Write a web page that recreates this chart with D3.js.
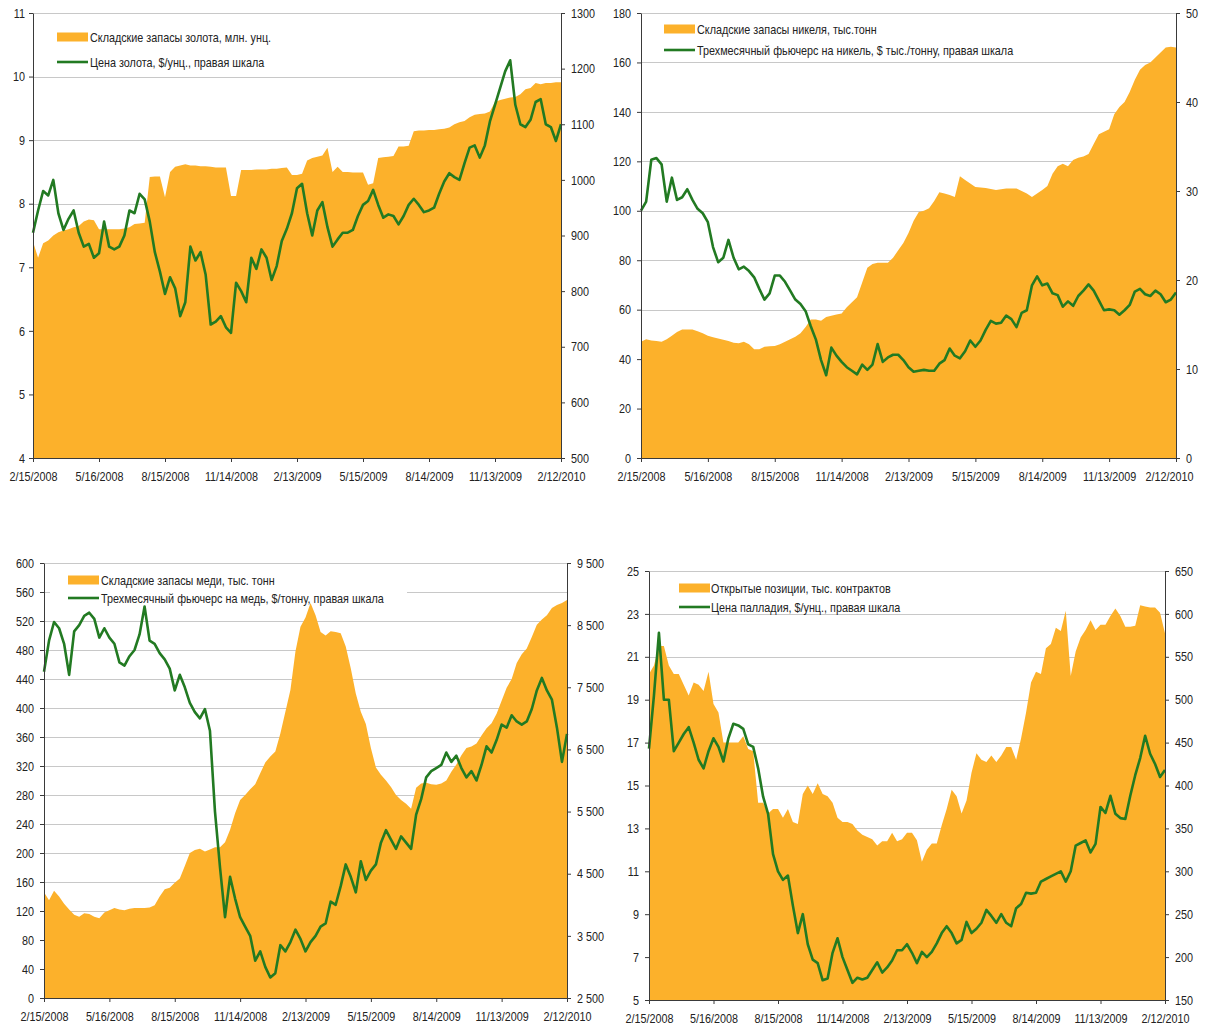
<!DOCTYPE html>
<html>
<head>
<meta charset="utf-8">
<script src="https://cdn.jsdelivr.net/npm/d3@7"></script>
<style>
  body { margin: 0; background: #fff; }
  text { font-family: "Liberation Sans Narrow", "Arial Narrow", "Liberation Sans", Arial, sans-serif; font-size: 13px; fill: #222; }
</style>
</head>
<body>
<svg id="chart" width="1205" height="1032"></svg>
<script>
// x axis: weekly observations, one tick every 13 weeks
var xTickLabels = ["2/15/2008", "5/16/2008", "8/15/2008", "11/14/2008", "2/13/2009",
                   "5/15/2009", "8/14/2009", "11/13/2009", "2/12/2010"];

// gold
var goldStocks = [7.4, 7.15, 7.38, 7.42, 7.5, 7.55, 7.58, 7.6, 7.63, 7.65,
  7.72, 7.75, 7.74, 7.6, 7.6, 7.6, 7.6, 7.6, 7.61, 7.63,
  7.68, 7.69, 7.7, 8.42, 8.43, 8.43, 8.1, 8.5, 8.58, 8.6,
  8.62, 8.6, 8.6, 8.59, 8.59, 8.58, 8.57, 8.57, 8.57, 8.12,
  8.12, 8.53, 8.53, 8.53, 8.54, 8.54, 8.54, 8.55, 8.55, 8.56,
  8.57, 8.45, 8.45, 8.47, 8.68, 8.72, 8.74, 8.76, 8.88, 8.5,
  8.58, 8.5, 8.5, 8.49, 8.49, 8.49, 8.3, 8.32, 8.72, 8.73,
  8.74, 8.75, 8.9, 8.9, 8.91, 9.14, 9.15, 9.15, 9.16, 9.16,
  9.17, 9.18, 9.2, 9.25, 9.28, 9.3, 9.36, 9.4, 9.41, 9.42,
  9.45, 9.6, 9.63, 9.65, 9.67, 9.68, 9.72, 9.8, 9.82, 9.9,
  9.88, 9.9, 9.9, 9.91, 9.91];
var goldPrice = [905, 945, 980, 972, 1000, 940, 910, 930, 945, 905,
  880, 885, 860, 868, 925, 880, 875, 880, 900, 945,
  940, 975, 965, 925, 870, 835, 795, 825, 805, 755,
  780, 880, 855, 870, 830, 740, 745, 755, 735, 725,
  815, 800, 780, 860, 840, 875, 860, 820, 845, 890,
  912, 940, 985, 993, 940, 900, 945, 960, 915, 880,
  893, 905, 905, 910, 935, 955, 962, 982, 955, 932,
  938, 935, 920, 935, 955, 966, 955, 942, 945, 950,
  975, 997, 1012, 1005, 1000, 1030, 1058, 1062, 1040, 1062,
  1105, 1135, 1165, 1195, 1215, 1135, 1100, 1095, 1108, 1140,
  1145, 1100, 1095, 1070, 1100];

// nickel
var nickelStocks = [47, 48, 47.5, 47.3, 47, 48, 49.5, 51, 52, 52,
  52, 51.3, 50.5, 49.4, 48.8, 48.3, 47.8, 47.3, 46.6, 46.4,
  47, 46, 44, 44, 45, 45.2, 45.3, 46, 47, 48,
  49, 50.5, 53, 56, 56, 55.5, 57, 57.5, 58, 58.5,
  61, 63, 65, 71, 77, 78.5, 79, 79, 79, 81,
  84, 87, 91, 96, 99.5, 100, 101, 104, 107.5, 107,
  106.4, 105.6, 114, 112.5, 111, 109.6, 109.4, 109.2, 108.8, 108.4,
  108.7, 109, 109, 109, 108, 107, 105.6, 107, 108.4, 110,
  115, 118, 119, 118, 120.5, 121.5, 122, 123, 127, 131,
  132, 133, 139, 142, 144, 148, 153, 157, 159, 160,
  162, 164, 166, 166.3, 166];
var nickelPrice = [27.8, 28.8, 33.5, 33.7, 33, 28.8, 31.5, 29, 29.3, 30.2,
  29, 28, 27.5, 26.5, 23.7, 22, 22.5, 24.5, 22.5, 21.2,
  21.5, 21, 20.3, 19, 17.8, 18.5, 20.5, 20.5, 19.8, 18.8,
  17.8, 17.3, 16.5, 14.8, 13.3, 11, 9.3, 12.4, 11.5, 10.8,
  10.2, 9.8, 9.4, 10.5, 9.9, 10.5, 12.8, 10.8, 11.3, 11.6,
  11.6, 11, 10.2, 9.7, 9.8, 9.9, 9.8, 9.8, 10.6, 11,
  12.3, 11.5, 11.2, 12, 13.2, 12.5, 13.2, 14.4, 15.4, 15.1,
  15.2, 16, 15.6, 14.7, 16.3, 16.6, 19.4, 20.4, 19.4, 19.6,
  18.5, 18.3, 17, 17.6, 17.1, 18.2, 18.8, 19.5, 18.8, 17.7,
  16.6, 16.7, 16.6, 16.1, 16.6, 17.2, 18.7, 19, 18.4, 18.2,
  18.8, 18.4, 17.5, 17.8, 18.6];

// copper
var copperStocks = [146, 135, 148, 140, 130, 122, 115, 112, 117, 116,
  112, 110, 118, 121, 124, 122, 121, 123, 124, 124,
  124, 125, 128, 140, 150, 152, 159, 165, 182, 200,
  204, 206, 202, 205, 208, 208, 215, 232, 255, 273,
  280, 288, 295, 310, 325, 333, 340, 365, 395, 425,
  478, 512, 525, 545, 528, 505, 500, 506, 505, 503,
  485, 455, 420, 395, 378, 345, 318, 308, 300, 291,
  280, 273, 268, 261, 290, 296, 297, 295, 294, 296,
  300, 312, 322, 335, 345, 347, 351, 362, 372, 379,
  392, 410, 428, 440, 462, 474, 482, 498, 515, 522,
  528, 538, 542, 545, 549];
var copperPrice = [7750, 8250, 8550, 8450, 8200, 7700, 8400, 8500, 8650, 8700,
  8600, 8300, 8450, 8300, 8200, 7900, 7850, 8000, 8100, 8350,
  8800, 8250, 8200, 8050, 7950, 7800, 7450, 7700, 7500, 7250,
  7100, 7000, 7150, 6800, 5500, 4600, 3800, 4450, 4100, 3800,
  3650, 3500, 3100, 3250, 3000, 2830, 2900, 3350, 3250, 3400,
  3600, 3450, 3250, 3400, 3500, 3650, 3700, 4050, 4000, 4300,
  4650, 4450, 4200, 4700, 4400, 4550, 4650, 5000, 5200, 5050,
  4900, 5100, 5000, 4900, 5450, 5700, 6050, 6150, 6200, 6250,
  6450, 6300, 6400, 6200, 6050, 6150, 6000, 6250, 6550, 6450,
  6650, 6900, 6850, 7050, 6950, 6900, 6950, 7150, 7450, 7650,
  7450, 7300, 6850, 6300, 6750];

// palladium
var palladiumOI = [20.2, 20.6, 21.5, 21.5, 20.6, 20.2, 20.2, 19.7, 19.2, 19.8,
  19.7, 19.4, 20.3, 18.8, 18.4, 17, 17, 17, 17, 17.3,
  16.7, 16.6, 14.2, 14.2, 13.7, 13.9, 13.9, 13.5, 13.9, 13.3,
  13.2, 14.6, 15, 14.6, 15.1, 14.6, 14.5, 14.2, 13.5, 13.3,
  13.3, 13.2, 12.9, 12.7, 12.6, 12.5, 12.2, 12.4, 12.4, 12.8,
  12.4, 12.5, 12.8, 12.8, 12.45, 11.45, 12, 12.3, 12.3, 13.15,
  13.9, 14.8, 14.5, 13.7, 14.3, 15.6, 16.5, 16.2, 16.1, 16.4,
  16.1, 16.4, 16.8, 16.8, 16.2, 17.2, 18.4, 19.8, 20.3, 20.2,
  21.4, 21.6, 22.35, 22.2, 23.15, 20.1, 21.25, 21.9, 22.25, 22.7,
  22.25, 22.5, 22.5, 22.9, 23.25, 22.9, 22.4, 22.4, 22.45, 23.4,
  23.35, 23.3, 23.3, 23.05, 22.1];
var palladiumPrice = [443, 505, 578, 500, 500, 440, 450, 460, 468, 450,
  430, 420, 440, 455, 445, 428, 455, 472, 470, 466,
  448, 445, 420, 387, 367, 320, 300, 290, 295, 260,
  228, 250, 215, 197, 193, 173, 175, 205, 222, 200,
  185, 170, 176, 174, 176, 185, 194, 182, 188, 196,
  208, 208, 215, 205, 193, 206, 200, 206, 216, 228,
  236, 228, 216, 220, 241, 228, 233, 240, 255, 248,
  240, 250, 240, 236, 257, 262, 275, 274, 275, 288,
  291, 294, 297, 300, 288, 300, 330, 333, 336, 322,
  332, 375, 368, 388, 367, 362, 361, 388, 412, 432,
  458, 437, 425, 410, 418];

var AREA_COLOR = "#fcb12b";
var LINE_COLOR = "#227a22";
var GRID_COLOR = "#c8c8c8";
var AXIS_COLOR = "#3a3a3a";

var parseTick = d3.timeParse("%m/%d/%Y");
var tickDates = xTickLabels.map(parseTick);
var weekDates = goldPrice.map(function(d, i) { return d3.timeDay.offset(tickDates[0], i * 7); });

var svg = d3.select("#chart");
var spaced = function(v) { return d3.format(",")(v).replace(",", " "); };

var panels = [
  { left: 33, right: 561, top: 13, bottom: 458, lpad: 4,
    area: goldStocks, line: goldPrice,
    leftDomain: [4, 11], leftTicks: d3.range(4, 12, 1),
    rightDomain: [500, 1300], rightTicks: d3.range(500, 1301, 100), rightFormat: d3.format("d"),
    legend: { x: 57, y1: 37, y2: 62, tx: 90,
      t1: "Складские запасы золота, млн. унц.", t2: "Цена золота, $/унц., правая шкала" } },
  { left: 641, right: 1176, top: 13, bottom: 458, lpad: 6, lastDx: -7,
    area: nickelStocks, line: nickelPrice,
    leftDomain: [0, 180], leftTicks: d3.range(0, 181, 20),
    rightDomain: [0, 50], rightTicks: d3.range(0, 51, 10), rightFormat: d3.format("d"),
    legend: { x: 664, y1: 29, y2: 50, tx: 697,
      t1: "Складские запасы никеля, тыс.тонн", t2: "Трехмесячный фьючерс на никель, $ тыс./тонну, правая шкала" } },
  { left: 44, right: 567, top: 563, bottom: 998, lpad: 6,
    area: copperStocks, line: copperPrice,
    leftDomain: [0, 600], leftTicks: d3.range(0, 601, 40),
    rightDomain: [2500, 9500], rightTicks: d3.range(2500, 9501, 1000), rightFormat: spaced,
    legendBox: [50, 568, 357, 32],
    legend: { x: 68, y1: 580, y2: 598, tx: 101,
      t1: "Складские запасы меди, тыс. тонн", t2: "Трехмесячный фьючерс на медь, $/тонну, правая шкала" } },
  { left: 649, right: 1165, top: 571, bottom: 1000, lpad: 6,
    area: palladiumOI, line: palladiumPrice,
    leftDomain: [5, 25], leftTicks: d3.range(5, 26, 2),
    rightDomain: [150, 650], rightTicks: d3.range(150, 651, 50), rightFormat: d3.format("d"),
    legend: { x: 679, y1: 588, y2: 607, tx: 711,
      t1: "Открытые позиции, тыс. контрактов", t2: "Цена палладия, $/унц., правая шкала" } }
];

function styleAxis(sel) {
  sel.select(".domain").attr("stroke", AXIS_COLOR).attr("stroke-width", 1);
  sel.selectAll(".tick line").attr("stroke", AXIS_COLOR);
  sel.selectAll(".tick text").attr("fill", "#222");
  sel.attr("font-family", null).attr("font-size", null);
}

panels.forEach(function(p) {
  var g = svg.append("g");
  var x = d3.scaleTime().domain([weekDates[0], weekDates[weekDates.length - 1]]).range([p.left, p.right]);
  var yL = d3.scaleLinear().domain(p.leftDomain).range([p.bottom, p.top]);
  var yR = d3.scaleLinear().domain(p.rightDomain).range([p.bottom, p.top]);

  // horizontal grid on the left scale
  g.selectAll("line.grid").data(p.leftTicks.slice(1)).join("line")
    .attr("class", "grid")
    .attr("x1", p.left).attr("x2", p.right)
    .attr("y1", function(d) { return Math.round(yL(d)) + 0.5; })
    .attr("y2", function(d) { return Math.round(yL(d)) + 0.5; })
    .attr("stroke", GRID_COLOR).attr("stroke-width", 1);

  // stocks as area
  g.append("path").datum(p.area)
    .attr("fill", AREA_COLOR)
    .attr("d", d3.area()
      .x(function(d, i) { return x(weekDates[i]); })
      .y0(p.bottom)
      .y1(function(d) { return yL(d); }));

  if (p.legendBox) {
    g.append("rect").attr("x", p.legendBox[0]).attr("y", p.legendBox[1])
      .attr("width", p.legendBox[2]).attr("height", p.legendBox[3]).attr("fill", "#fff");
  }

  // price as line, right scale
  g.append("path").datum(p.line)
    .attr("fill", "none").attr("stroke", LINE_COLOR).attr("stroke-width", 2.6)
    .attr("stroke-linejoin", "round")
    .attr("d", d3.line()
      .x(function(d, i) { return x(weekDates[i]); })
      .y(function(d) { return yR(d); }));

  // axes
  g.append("g").attr("transform", "translate(" + p.left + ",0)")
    .call(d3.axisLeft(yL).tickValues(p.leftTicks).tickSize(4).tickSizeOuter(0).tickPadding(p.lpad).tickFormat(d3.format("d")))
    .call(styleAxis);
  g.append("g").attr("transform", "translate(" + p.right + ",0)")
    .call(d3.axisRight(yR).tickValues(p.rightTicks).tickSize(4).tickSizeOuter(0).tickPadding(6).tickFormat(p.rightFormat))
    .call(styleAxis);
  var xa = g.append("g").attr("transform", "translate(0," + p.bottom + ")")
    .call(d3.axisBottom(x).tickValues(tickDates).tickSize(4).tickSizeOuter(0).tickPadding(10)
      .tickFormat(function(d, i) { return xTickLabels[i]; }))
    .call(styleAxis);
  if (p.lastDx) {
    xa.selectAll(".tick text").filter(function(d, i) { return i === xTickLabels.length - 1; })
      .attr("dx", p.lastDx);
  }

  // legend
  var L = p.legend;
  g.append("rect").attr("x", L.x).attr("y", L.y1 - 4.5).attr("width", 31).attr("height", 9).attr("fill", AREA_COLOR);
  g.append("line").attr("x1", L.x).attr("x2", L.x + 31).attr("y1", L.y2).attr("y2", L.y2)
    .attr("stroke", LINE_COLOR).attr("stroke-width", 2.6);
  g.append("text").attr("x", L.tx).attr("y", L.y1).attr("dy", "0.35em").text(L.t1);
  g.append("text").attr("x", L.tx).attr("y", L.y2).attr("dy", "0.35em").text(L.t2);
});

// squeeze text to the narrow face of the original if the narrow font is missing
var probe = svg.append("text").attr("x", -100).attr("y", -100).text("2/15/2008");
var k = 48 / probe.node().getComputedTextLength();
probe.remove();
if (Math.abs(k - 1) > 0.06) {
  svg.selectAll("text").each(function() {
    var w = this.getComputedTextLength();
    if (w > 0) d3.select(this).attr("textLength", w * k).attr("lengthAdjust", "spacingAndGlyphs");
  });
}
</script>
</body>
</html>
